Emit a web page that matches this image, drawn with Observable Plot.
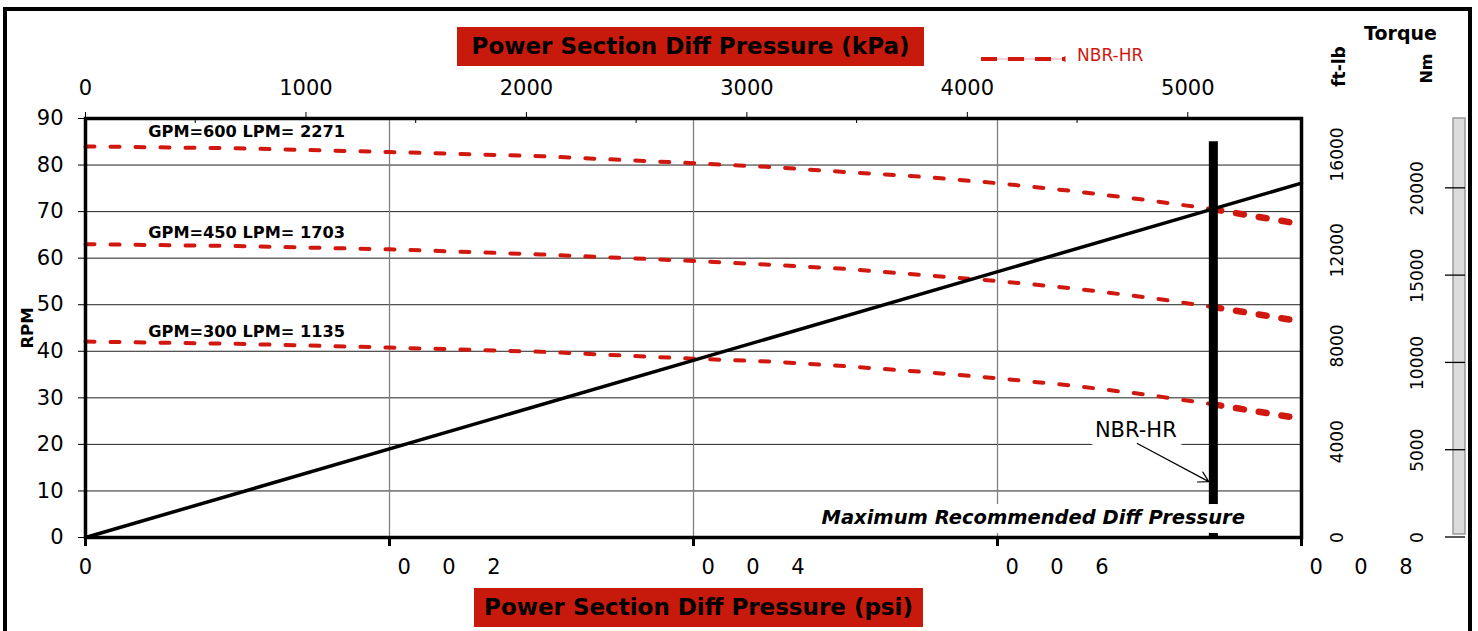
<!DOCTYPE html>
<html><head><meta charset="utf-8">
<script src="https://cdn.jsdelivr.net/npm/d3@7"></script>
<script src="https://cdn.jsdelivr.net/npm/@observablehq/plot@0.6"></script>
<style>
html,body{margin:0;padding:0;background:#fff;overflow:hidden;}
#wrap{position:relative;width:1478px;height:631px;overflow:hidden;font-family:"DejaVu Sans",sans-serif;}
#outer{position:absolute;left:3px;top:7px;width:1469px;height:700px;border:4px solid #000;box-sizing:border-box;}
#chart{position:absolute;left:0;top:0;}
.title{position:absolute;background:#c8190d;color:#000;font-weight:bold;font-size:23px;text-align:center;line-height:39px;height:39px;white-space:nowrap;}
#legend{position:absolute;left:975px;top:44px;}
</style></head><body>
<div id="wrap">
  <div id="outer"></div>
  <div id="chart"></div>
  <div class="title" id="titleTop" style="left:457px;top:27px;width:467px"></div>
  <div class="title" id="titleBottom" style="left:474px;top:588px;width:449px"></div>
  <div id="legend"></div>
</div>
<script>
// ---------- data ----------
const psiPoints = [0, 100, 200, 300, 400, 450, 500, 550, 600, 650, 700, 742, 800];
const rpm600 = [84.0, 83.6, 82.8, 81.9, 80.4, 79.6, 78.5, 77.5, 76.1, 74.4, 72.4, 70.5, 67.3];
const rpm450 = [63.0, 62.6, 61.9, 60.8, 59.4, 58.6, 57.7, 56.4, 55.1, 53.5, 51.5, 49.5, 46.4];
const rpm300 = [42.1, 41.6, 40.8, 39.9, 38.4, 37.8, 36.8, 35.6, 34.2, 32.6, 30.6, 28.6, 25.5];
const seriesLabels = ["GPM=600 LPM= 2271", "GPM=450 LPM= 1703", "GPM=300 LPM= 1135"];

const torquePsi = [0, 800];
const torqueFtLb = [0, 14800];

const maxDiffPsi = 742;
const maxLineTopRpm = 85;

const rpmTicks = [0, 10, 20, 30, 40, 50, 60, 70, 80, 90];
const psiTicks = [0, 200, 400, 600, 800];
const psiTickLabels = ["0", "0 0 2", "0 0 4", "0 0 6", "0 0 8"];
const kpaTicks = [0, 1000, 2000, 3000, 4000, 5000];
const kpaMinorTicks = [500, 1500, 2500, 3500, 4500];
const ftLbTicks = [0, 4000, 8000, 12000, 16000];
const nmTicks = [0, 5000, 10000, 15000, 20000];

const titleTop = "Power Section Diff Pressure (kPa)";
const titleBottom = "Power Section Diff Pressure (psi)";
const yLabel = "RPM";
const torqueLabel = "Torque";
const ftLbLabel = "ft-lb";
const nmLabel = "Nm";
const legendLabel = "NBR-HR";
const annotationLabel = "NBR-HR";
const maxText = "Maximum Recommended Diff Pressure";

// ---------- derived ----------
const KPA_PER_PSI = 6.894757;
const FT_MAX = 17500;   // ft-lb at top of frame (RPM 90)
const NM_MAX = 24000;   // Nm at top of frame (RPM 90)
const RED = "#d0180f";
const FONT = "DejaVu Sans";

const seriesValues = [rpm600, rpm450, rpm300];
const rows = seriesValues.flatMap((vals, k) => psiPoints.map((p, i) => ({key: k, psi: p, rpm: vals[i]})));
const mainRows = rows.filter(d => d.psi <= maxDiffPsi);
const extRows = rows.filter(d => d.psi >= maxDiffPsi);
const torqueRows = torquePsi.map((p, i) => ({psi: p, ft: torqueFtLb[i]}));
const spaced = s => s.replace(/ /g, "\u2003\u2002");
const centered = {textAnchor: "middle", lineAnchor: "middle"};

// custom decorations drawn with the plot's scales
function extras(index, scales, values, dimensions) {
  const {x, y} = scales;
  const xr = dimensions.width - dimensions.marginRight;
  const g = d3.create("svg:g");
  g.selectAll("line.minor").data(kpaMinorTicks).join("line")
    .attr("x1", d => x(d / KPA_PER_PSI)).attr("x2", d => x(d / KPA_PER_PSI))
    .attr("y1", y(90)).attr("y2", y(90) + 5)
    .attr("stroke", "#000").attr("stroke-width", 1);
  g.append("rect")
    .attr("x", xr + 152).attr("y", y(90))
    .attr("width", 12).attr("height", y(0) - y(90) - 3)
    .attr("fill", "#dcdcdc").attr("stroke", "#9a9a9a").attr("stroke-width", 1.5);
  g.selectAll("line.nm").data(nmTicks).join("line")
    .attr("x1", xr + 144).attr("x2", xr + 164)
    .attr("y1", d => y(d * 90 / NM_MAX)).attr("y2", d => y(d * 90 / NM_MAX))
    .attr("stroke", "#000").attr("stroke-width", 1.3);
  return g.node();
}

const chart = Plot.plot({
  width: 1478, height: 631,
  marginLeft: 85, marginRight: 177, marginTop: 118, marginBottom: 94,
  x: {domain: [0, 800], label: null},
  y: {domain: [0, 90], label: null},
  style: {fontFamily: FONT, fontSize: "21px", background: "transparent", color: "#000", overflow: "visible"},
  marks: [
    Plot.gridY({ticks: rpmTicks.filter(t => t > 0 && t < 90), stroke: "#222", strokeOpacity: 1, strokeWidth: 1}),
    Plot.gridX({ticks: psiTicks.filter(t => t > 0 && t < 800), stroke: "#808080", strokeOpacity: 1, strokeWidth: 1.3}),
    Plot.line(mainRows, {x: "psi", y: "rpm", z: "key", stroke: RED, strokeWidth: 4, strokeDasharray: "9,16"}),
    Plot.line(extRows, {x: "psi", y: "rpm", z: "key", stroke: RED, strokeWidth: 6.5, strokeDasharray: "8,15"}),
    Plot.line(torqueRows, {x: "psi", y: d => d.ft * 90 / FT_MAX, stroke: "#000", strokeWidth: 3.5}),
    Plot.ruleX([maxDiffPsi], {y1: 0, y2: maxLineTopRpm, stroke: "#000", strokeWidth: 9}),
    Plot.frame({stroke: "#000", strokeWidth: 3.5}),
    Plot.axisY({ticks: rpmTicks, anchor: "left", tickSize: 7, tickPadding: 15, fontSize: 21}),
    Plot.axisX({ticks: kpaTicks.map(k => k / KPA_PER_PSI), anchor: "top", tickSize: 7, tickPadding: 17,
      tickFormat: d => String(Math.round(d * KPA_PER_PSI)), fontSize: 21}),
    Plot.axisX({ticks: psiTicks, anchor: "bottom", tickSize: 9, strokeWidth: 3, tickFormat: () => ""}),
    extras,
    Plot.text(psiTicks.slice(0, 1), {x: d => d, y: 0, dy: 30, text: (d, i) => psiTickLabels[i], fontSize: 21}),
    Plot.text(psiTicks.slice(1), {x: d => d, y: 0, dy: 30, dx: 8, textAnchor: "start",
      text: (d, i) => spaced(psiTickLabels[i + 1]), fontSize: 21}),
    Plot.text(ftLbTicks, {y: d => d * 90 / FT_MAX, text: d => String(d), frameAnchor: "right", dx: 36, rotate: -90, fontSize: 17, ...centered}),
    Plot.text(nmTicks, {y: d => d * 90 / NM_MAX, text: d => String(d), frameAnchor: "right", dx: 116, rotate: -90, fontSize: 17, ...centered}),
    Plot.text([torqueLabel], {frameAnchor: "top-right", dx: 99, dy: -85, fontWeight: "bold", fontSize: 19, ...centered}),
    Plot.text([ftLbLabel], {frameAnchor: "top-right", dx: 38, dy: -52, rotate: -90, fontWeight: "bold", fontSize: 17, ...centered}),
    Plot.text([nmLabel], {frameAnchor: "top-right", dx: 125, dy: -50, rotate: -90, fontWeight: "bold", fontSize: 16, ...centered}),
    Plot.text([yLabel], {frameAnchor: "left", y: 45, dx: -58, rotate: -90, fontWeight: "bold", fontSize: 16.5, ...centered}),
    Plot.text(seriesLabels, {x: 106, y: (d, i) => [87.2, 65.4, 44.1][i], fontWeight: "bold", fontSize: 16.2}),
    Plot.text([maxText], {x: 623.5, y: 4.3, fontWeight: "bold", fontStyle: "italic", fontSize: 19.5,
      fill: "#000", stroke: "#fff", strokeWidth: 18, paintOrder: "stroke", strokeLinejoin: "round"}),
    Plot.text([annotationLabel], {x: 691, y: 23.0, fontSize: 21,
      fill: "#000", stroke: "#fff", strokeWidth: 18, paintOrder: "stroke", strokeLinejoin: "round"}),
    Plot.arrow([0], {x1: 692, y1: 20.2, x2: 739, y2: 12.0, stroke: "#000", strokeWidth: 1.2, headLength: 14})
  ]
});
document.getElementById("chart").appendChild(chart);

document.getElementById("titleTop").textContent = titleTop;
document.getElementById("titleBottom").textContent = titleBottom;

const lg = d3.select("#legend").append("svg").attr("width", 200).attr("height", 30)
  .style("font-family", FONT);
lg.append("line").attr("x1", 6).attr("x2", 90).attr("y1", 15).attr("y2", 15)
  .attr("stroke", "#f3a3a0").attr("stroke-width", 1);
lg.append("line").attr("x1", 6).attr("x2", 90).attr("y1", 15).attr("y2", 15)
  .attr("stroke", RED).attr("stroke-width", 4).attr("stroke-dasharray", "16,11");
lg.append("line").attr("x1", 90).attr("x2", 90).attr("y1", 12).attr("y2", 18)
  .attr("stroke", RED).attr("stroke-width", 1);
lg.append("text").attr("x", 102).attr("y", 17).attr("fill", RED).attr("font-size", 17).text(legendLabel);
</script>
</body></html>
